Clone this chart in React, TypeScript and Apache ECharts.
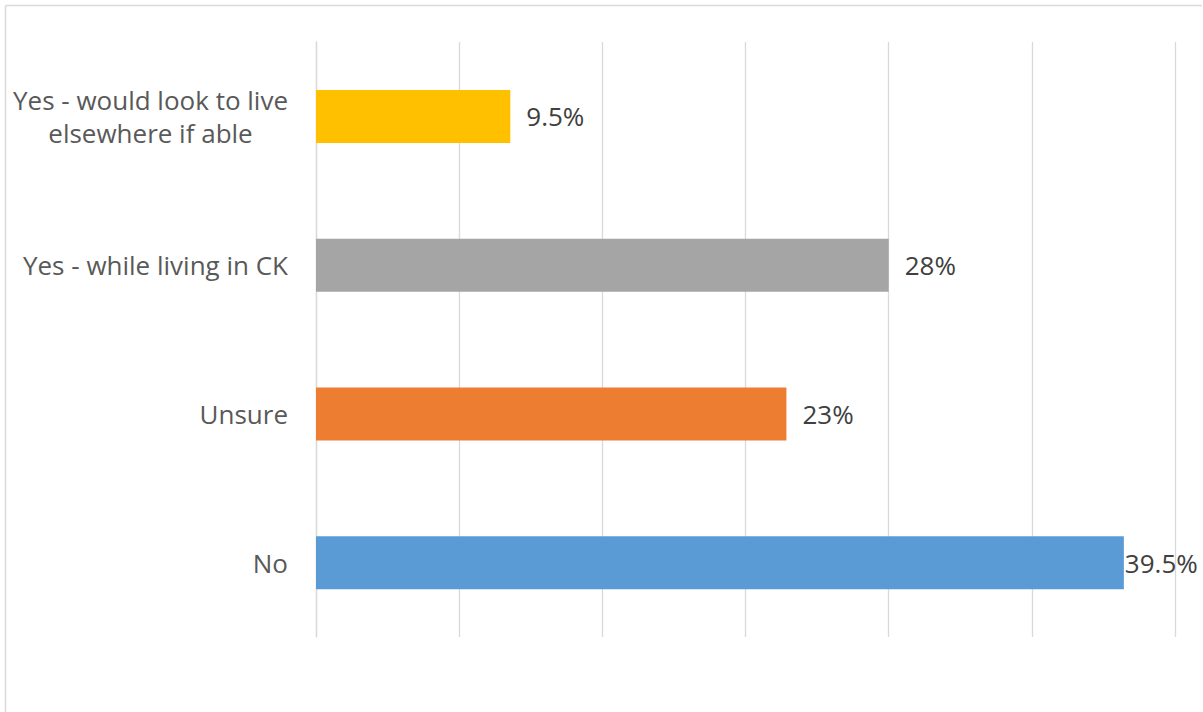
import React, { useEffect, useRef } from "react";
import * as echarts from "echarts";

const categories = [
  "No",
  "Unsure",
  "Yes - while living in CK",
  "Yes - would look to live\nelsewhere if able",
];
const values = [39.5, 23, 28, 9.5];
const valueLabels = ["39.5%", "23%", "28%", "9.5%"];
const barColors = ["#5B9BD5", "#ED7D31", "#A5A5A5", "#FFC000"];
const axisMax = 42;
const axisInterval = 7;

export default function App() {
  const ref = useRef<HTMLDivElement>(null);
  useEffect(() => {
    if (!ref.current) return;
    const chart = echarts.init(ref.current, undefined, { renderer: "svg" });
    chart.setOption({
      animation: false,
      backgroundColor: "#ffffff",
      textStyle: { fontFamily: "Open Sans" },
      grid: { left: 316, right: 28, top: 42, bottom: 75, containLabel: false },
      graphic: [
        {
          type: "line",
          shape: { x1: 5.5, y1: 5.5, x2: 1202, y2: 5.5 },
          style: { stroke: "#d9d9d9", lineWidth: 1.5 },
          silent: true,
        },
        {
          type: "line",
          shape: { x1: 5.5, y1: 5.5, x2: 5.5, y2: 712 },
          style: { stroke: "#d9d9d9", lineWidth: 1.5 },
          silent: true,
        },
      ],
      xAxis: {
        type: "value",
        min: 0,
        max: axisMax,
        interval: axisInterval,
        axisLabel: { show: false },
        axisLine: { show: false },
        axisTick: { show: false },
        splitLine: { show: true, lineStyle: { color: "#d9d9d9", width: 1.3 } },
      },
      yAxis: {
        type: "category",
        data: categories,
        axisLine: { show: true, lineStyle: { color: "#d9d9d9", width: 1.3 } },
        axisTick: { show: false },
        axisLabel: {
          margin: 28,
          color: "#595959",
          fontSize: 26,
          fontFamily: "Open Sans",
          formatter: (v: string) =>
            v
              .split("\n")
              .map((s) => `{c|${s}}`)
              .join("\n"),
          rich: {
            c: {
              align: "center",
              color: "#595959",
              fontSize: 26,
              fontFamily: "Open Sans",
              lineHeight: 33,
            },
          },
        },
      },
      series: [
        {
          type: "bar",
          barWidth: 53,
          data: values.map((v, i) => ({
            value: v,
            itemStyle: { color: barColors[i] },
            label: { distance: i === 0 ? 1 : 16 },
          })),
          label: {
            show: true,
            position: "right",
            color: "#404040",
            fontSize: 26,
            fontFamily: "Open Sans",
            formatter: (p: any) => valueLabels[p.dataIndex],
          },
        },
      ],
    });
    return () => chart.dispose();
  }, []);
  return (
    <div
      ref={ref}
      style={{ position: "fixed", left: 0, top: 0, width: 1203, height: 712 }}
    />
  );
}
